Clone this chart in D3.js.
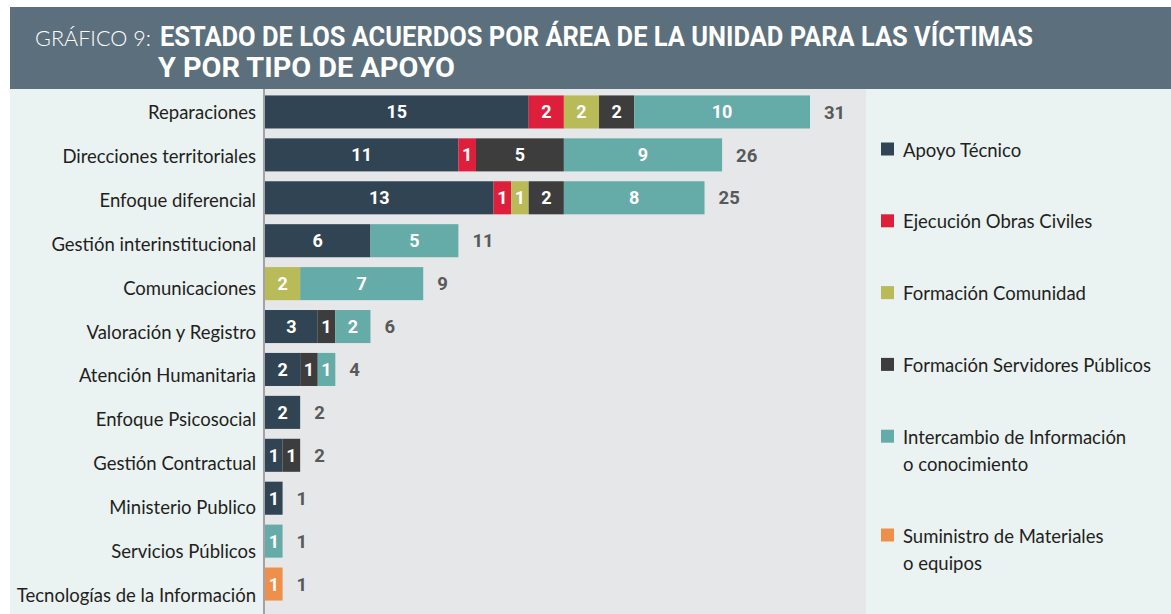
<!DOCTYPE html>
<html>
<head>
<meta charset="utf-8">
<script src="https://cdn.jsdelivr.net/npm/d3@7"></script>
<style>
  html, body { margin: 0; padding: 0; background: #ffffff; }
  svg { display: block; }
</style>
</head>
<body>
<svg id="chart" width="1171" height="614"></svg>
<script>
// ---- Data ----
const categories = [
  "Reparaciones", "Direcciones territoriales", "Enfoque diferencial",
  "Gestión interinstitucional", "Comunicaciones", "Valoración y Registro",
  "Atención Humanitaria", "Enfoque Psicosocial", "Gestión Contractual",
  "Ministerio Publico", "Servicios Públicos", "Tecnologías de la Información"
];
const seriesNames = [
  "Apoyo Técnico", "Ejecución Obras Civiles", "Formación Comunidad",
  "Formación Servidores Públicos", "Intercambio de Información o conocimiento",
  "Suministro de Materiales o equipos"
];
const legendLines = [
  ["Apoyo Técnico"], ["Ejecución Obras Civiles"], ["Formación Comunidad"],
  ["Formación Servidores Públicos"], ["Intercambio de Información", "o conocimiento"],
  ["Suministro de Materiales", "o equipos"]
];
const apoyoTecnico        = [15, 11, 13, 6, 0, 3, 2, 2, 1, 1, 0, 0];
const ejecucionObras      = [ 2,  1,  1, 0, 0, 0, 0, 0, 0, 0, 0, 0];
const formacionComunidad  = [ 2,  0,  1, 0, 2, 0, 0, 0, 0, 0, 0, 0];
const formacionServidores = [ 2,  5,  2, 0, 0, 1, 1, 0, 1, 0, 0, 0];
const intercambio         = [10,  9,  8, 5, 7, 2, 1, 0, 0, 0, 1, 0];
const suministro          = [ 0,  0,  0, 0, 0, 0, 0, 0, 0, 0, 0, 1];
const colors = ["#314453", "#de1f3c", "#b9ba58", "#3d3d3d", "#65aba8", "#ee904b"];

const seriesValues = [apoyoTecnico, ejecucionObras, formacionComunidad,
                      formacionServidores, intercambio, suministro];
const keys = seriesNames;
const table = categories.map((c, i) => {
  const row = { category: c };
  keys.forEach((k, j) => row[k] = seriesValues[j][i]);
  row.total = d3.sum(seriesValues, s => s[i]);
  return row;
});

// ---- Layout ----
const svg = d3.select("#chart");
const W = 1171, H = 614;
const plotLeft = 265, plotRight = 866;

// backgrounds
svg.append("rect").attr("x", 10).attr("y", 7).attr("width", W - 10).attr("height", 82).attr("fill", "#5c6f7c");
svg.append("rect").attr("x", 10).attr("y", 89).attr("width", plotLeft - 10 - 2).attr("height", H - 89).attr("fill", "#eaf2f2");
svg.append("rect").attr("x", plotLeft - 2).attr("y", 89).attr("width", plotRight - plotLeft + 2).attr("height", H - 89).attr("fill", "#e6e7e9");
svg.append("rect").attr("x", plotRight).attr("y", 89).attr("width", W - plotRight).attr("height", H - 89).attr("fill", "#eaf2f2");

// title
const title = svg.append("g");
title.append("text").attr("x", 35).attr("y", 46)
  .attr("font-family", "Lato, sans-serif").attr("font-weight", 300)
  .attr("font-size", 22).attr("fill", "#ffffff")
  .attr("textLength", 116).attr("lengthAdjust", "spacingAndGlyphs")
  .text("GRÁFICO 9:");
title.append("text").attr("x", 160).attr("y", 46)
  .attr("font-family", "Roboto, sans-serif").attr("font-weight", 700)
  .attr("font-size", 28).attr("fill", "#ffffff")
  .attr("textLength", 873).attr("lengthAdjust", "spacingAndGlyphs")
  .text("ESTADO DE LOS ACUERDOS POR ÁREA DE LA UNIDAD PARA LAS VÍCTIMAS");
title.append("text").attr("x", 158).attr("y", 77)
  .attr("font-family", "Roboto, sans-serif").attr("font-weight", 700)
  .attr("font-size", 28).attr("fill", "#ffffff")
  .attr("textLength", 297).attr("lengthAdjust", "spacingAndGlyphs")
  .text("Y POR TIPO DE APOYO");

// scales
const x = d3.scaleLinear().domain([0, d3.max(table, d => d.total)]).range([plotLeft, 810]);
const y = d3.scaleBand().domain(categories).range([90.5, 605.5])
  .paddingInner(0.23).paddingOuter(0.115);
const yLabel = d3.scalePoint().domain(categories).range([112, 595]);
const color = d3.scaleOrdinal().domain(keys).range(colors);

const stacked = d3.stack().keys(keys)(table);

// axis (category labels)
const yAxis = d3.axisLeft(yLabel).tickSize(0).tickPadding(8);
const ag = svg.append("g").attr("transform", `translate(${plotLeft - 1},0)`).call(yAxis);
ag.select(".domain").attr("stroke", "#8a8d90").attr("stroke-width", 1.5)
  .attr("d", `M0,89V${H}`);
ag.selectAll(".tick text")
  .attr("font-family", "Lato, sans-serif").attr("font-size", 18.5)
  .attr("fill", "#231f20").attr("dy", "0.35em");

// bars
const layers = svg.append("g").selectAll("g").data(stacked).join("g")
  .attr("fill", d => color(d.key));
layers.selectAll("rect").data(d => d.filter(s => s[1] - s[0] > 0)).join("rect")
  .attr("x", d => x(d[0]))
  .attr("width", d => x(d[1]) - x(d[0]))
  .attr("y", d => y(d.data.category))
  .attr("height", y.bandwidth());

// segment labels
const segLabels = svg.append("g");
stacked.forEach(layer => {
  layer.filter(s => s[1] - s[0] > 0).forEach(s => {
    segLabels.append("text")
      .attr("x", (x(s[0]) + x(s[1])) / 2)
      .attr("y", y(s.data.category) + y.bandwidth() / 2)
      .attr("dy", "0.36em").attr("text-anchor", "middle")
      .attr("font-family", "Roboto, sans-serif").attr("font-weight", 700)
      .attr("font-size", 18).attr("fill", "#ffffff")
      .text(s[1] - s[0]);
  });
});

// totals
svg.append("g").selectAll("text").data(table).join("text")
  .attr("x", d => x(d.total) + 14)
  .attr("y", d => y(d.category) + y.bandwidth() / 2)
  .attr("dy", "0.36em")
  .attr("font-family", "Roboto, sans-serif").attr("font-weight", 700)
  .attr("font-size", 18.5).attr("fill", "#58595b")
  .text(d => d.total);

// legend
const legend = svg.append("g");
let extraLines = 0;
keys.forEach((k, i) => {
  const cy = 150 + 71.8 * i + 27 * extraLines;
  legend.append("rect").attr("x", 881).attr("y", cy - 7.5).attr("width", 13).attr("height", 13)
    .attr("fill", color(k));
  legendLines[i].forEach((line, j) => {
    legend.append("text").attr("x", 903).attr("y", cy + 6.5 + j * 27)
      .attr("font-family", "Lato, sans-serif").attr("font-size", 18.5)
      .attr("fill", "#231f20").text(line);
  });
  extraLines += legendLines[i].length - 1;
});
</script>
</body>
</html>
